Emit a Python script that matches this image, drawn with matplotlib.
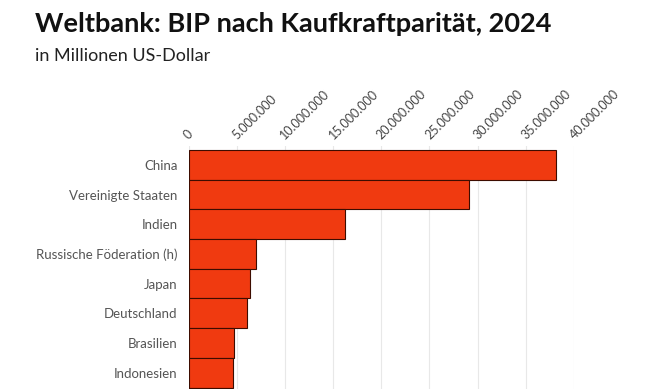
import matplotlib
matplotlib.use("Agg")
import matplotlib.pyplot as plt
import matplotlib.transforms as mtransforms
from matplotlib.ticker import FuncFormatter

plt.rcParams['font.family'] = ['Lato', 'DejaVu Sans']

# Daten (Millionen US-Dollar)
countries = ['China', 'Vereinigte Staaten', 'Indien', 'Russische Föderation (h)',
             'Japan', 'Deutschland', 'Brasilien', 'Indonesien', 'Frankreich']
gdp_ppp = [38160000, 29140000, 16200000, 6970000, 6410000, 6040000,
           4720000, 4620000, 4550000]
xticks = [0, 5000000, 10000000, 15000000, 20000000, 25000000,
          30000000, 35000000, 40000000]

W, H = 651, 389
fig = plt.figure(figsize=(W / 100, H / 100), dpi=100)

# Achse: links 188.5px, rechts 574px, oben 146px, unten = Bildrand
ax = fig.add_axes([188.5 / W, 0, (574 - 188.5) / W, (H - 146) / H])

pos = list(range(len(countries)))
ax.barh(pos, gdp_ppp, height=1.0, color='#f03a10', edgecolor='#3d0c00',
        linewidth=0.8, zorder=3)

ax.set_xlim(0, 40000000)
ax.set_ylim(7.55, -0.635)
ax.set_xticks(xticks)
ax.xaxis.set_major_formatter(FuncFormatter(lambda v, p: f"{int(v):,}".replace(',', '.')))
ax.xaxis.tick_top()
ax.tick_params(axis='x', length=0, pad=3, labelsize=9, labelcolor='#444444')
shift = mtransforms.ScaledTranslation(2 / 100, 0, fig.dpi_scale_trans)
for lbl in ax.get_xticklabels():
    lbl.set_rotation(45)
    lbl.set_ha('left')
    lbl.set_va('bottom')
    lbl.set_rotation_mode('anchor')
    lbl.set_transform(lbl.get_transform() + shift)

ax.set_yticks(pos[:8])
ax.set_yticklabels(countries[:8])
ax.tick_params(axis='y', length=0, pad=8, labelsize=9.5, labelcolor='#555555')

ax.grid(axis='x', color='#e8e8e8', linewidth=0.8, zorder=0)
for s in ax.spines.values():
    s.set_visible(False)

fig.text(35 / W, 1 - 12 / H, 'Weltbank: BIP nach Kaufkraftparität, 2024',
         fontsize=19.5, fontweight='bold', color='#111111', va='top', ha='left')
fig.text(35 / W, 1 - 48 / H, 'in Millionen US-Dollar',
         fontsize=13, color='#222222', va='top', ha='left')

fig.savefig('out.png', dpi=100)
